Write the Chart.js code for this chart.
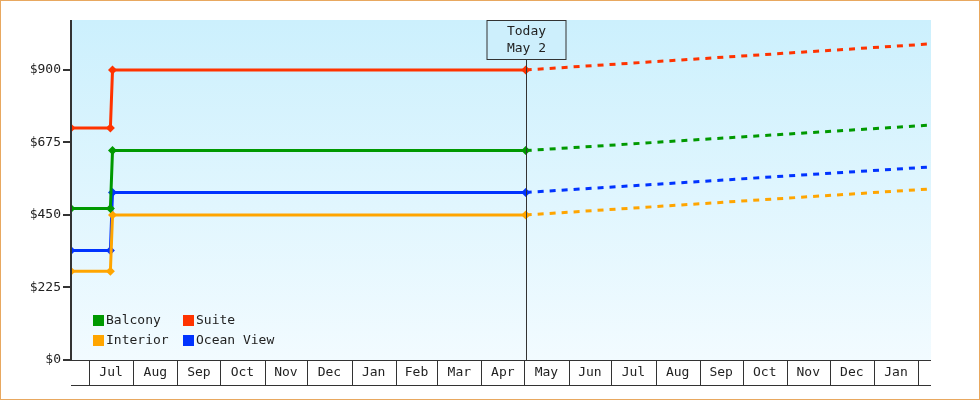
<!DOCTYPE html>
<html><head><meta charset="utf-8">
<script src="https://cdn.jsdelivr.net/npm/chart.js@4"></script>
<style>body{margin:0;background:#fff}#w{width:980px;height:400px}</style></head>
<body><div id="w"><canvas id="c"></canvas></div>
<script>
// x values are days since 2023-06-01
const seriesNames = ["Balcony","Interior","Suite","Ocean View"];
const colors = ["#009900","#ffa500","#ff3300","#0033ff"];
const historyX = [17.4, 45, 46.5, 336];
const balconyHist = [470, 470, 650, 650];
const interiorHist = [275, 275, 450, 450];
const suiteHist = [720, 720, 900, 900];
const oceanHist = [340, 340, 520, 520];
const forecastX = [336, 620];
const balconyFc = [650, 729];
const interiorFc = [450, 531];
const suiteFc = [900, 981];
const oceanFc = [520, 599];
const monthStarts = [30,61,92,122,153,183,214,245,274,305,335,366,396,427,458,488,519,549,580,611];
const monthLabels = ["Jul","Aug","Sep","Oct","Nov","Dec","Jan","Feb","Mar","Apr","May","Jun","Jul","Aug","Sep","Oct","Nov","Dec","Jan"];
const yTicks = [0,225,450,675,900];
const todayX = 336;
const todayLabel = ["Today","May 2"];

const hist=[balconyHist,interiorHist,suiteHist,oceanHist];
const fc=[balconyFc,interiorFc,suiteFc,oceanFc];
const ds=[];
seriesNames.forEach((n,i)=>{
  ds.push({label:n,data:historyX.map((x,j)=>({x,y:hist[i][j]})),borderColor:colors[i],backgroundColor:colors[i],borderWidth:3,pointStyle:'rectRot',pointRadius:4.5,pointBorderWidth:0,tension:0,order:2});
  ds.push({label:n+' fc',data:forecastX.map((x,j)=>({x,y:fc[i][j]})),borderColor:colors[i],borderWidth:3,borderDash:[6,6],pointRadius:0,tension:0,order:3});
});
const FONT='"DejaVu Sans Mono", monospace';
const plug={id:'p',
beforeDraw(ch){const {ctx,chartArea:a}=ch;const g=ctx.createLinearGradient(0,a.top,0,a.bottom);g.addColorStop(0,'#ccf0fd');g.addColorStop(1,'#f2fbff');ctx.fillStyle=g;ctx.fillRect(a.left,a.top,a.right-a.left,a.bottom-a.top);},
afterDraw(ch){const {ctx,chartArea:a,scales}=ch;const xs=scales.x;
 ctx.save();ctx.strokeStyle='#333';ctx.fillStyle='#222';ctx.font='13px '+FONT;ctx.textAlign='center';ctx.textBaseline='middle';
 ctx.lineWidth=1;
 // x axis boxes
 ctx.beginPath();ctx.moveTo(a.left,a.bottom+0.5);ctx.lineTo(a.right,a.bottom+0.5);ctx.moveTo(a.left,a.bottom+25.5);ctx.lineTo(a.right,a.bottom+25.5);
 monthStarts.forEach(m=>{const p=Math.round(xs.getPixelForValue(m))+0.5;if(p<a.right){ctx.moveTo(p,a.bottom);ctx.lineTo(p,a.bottom+25);}});ctx.stroke();
 monthLabels.forEach((l,i)=>{const p=(xs.getPixelForValue(monthStarts[i])+xs.getPixelForValue(monthStarts[i+1]))/2;ctx.fillText(l,p,a.bottom+13);});
 // today
 const tx=Math.round(xs.getPixelForValue(todayX))+0.5;
 ctx.beginPath();ctx.moveTo(tx,a.top+40);ctx.lineTo(tx,a.bottom);ctx.stroke();
 ctx.fillStyle='#cdeffc';ctx.fillRect(tx-40,a.top,80,40);ctx.strokeRect(tx-39.5,a.top+0.5,79,39);
 ctx.fillStyle='#222';ctx.fillText(todayLabel[0],tx,a.top+12);ctx.fillText(todayLabel[1],tx,a.top+29);
 // legend
 ctx.textAlign='left';
 const pos=[[a.left+22,a.bottom-40],[a.left+22,a.bottom-20],[a.left+112,a.bottom-40],[a.left+112,a.bottom-20]];
 seriesNames.forEach((n,i)=>{const [x,y]=pos[i];ctx.fillStyle=colors[i];ctx.fillRect(x,y-5,11,11);ctx.fillStyle='#222';ctx.fillText(n,x+13,y+1);});
 // y axis line
 ctx.lineWidth=2;ctx.beginPath();ctx.moveTo(a.left,a.top);ctx.lineTo(a.left,a.bottom+1);ctx.stroke();
 // outer border
 ctx.lineWidth=1;ctx.strokeStyle='#e8a860';ctx.strokeRect(0.5,0.5,979,399);
 ctx.restore();}};
new Chart(document.getElementById('c'),{type:'line',data:{datasets:ds},plugins:[plug],
options:{responsive:true,maintainAspectRatio:false,animation:false,
layout:{padding:{top:20,bottom:40,right:49,left:0}},
plugins:{legend:{display:false},tooltip:{enabled:false}},
scales:{
 x:{type:'linear',min:17.4,max:620,display:false},
 y:{min:0,max:1055,afterFit(s){s.width=71;},afterBuildTicks(s){s.ticks=yTicks.map(v=>({value:v}));},
  border:{display:false},grid:{drawOnChartArea:false,color:'#333',tickLength:8,lineWidth:2},
  ticks:{color:'#222',font:{family:FONT,size:13},padding:2,callback:v=>'$'+v}}
}}});
</script></body></html>
